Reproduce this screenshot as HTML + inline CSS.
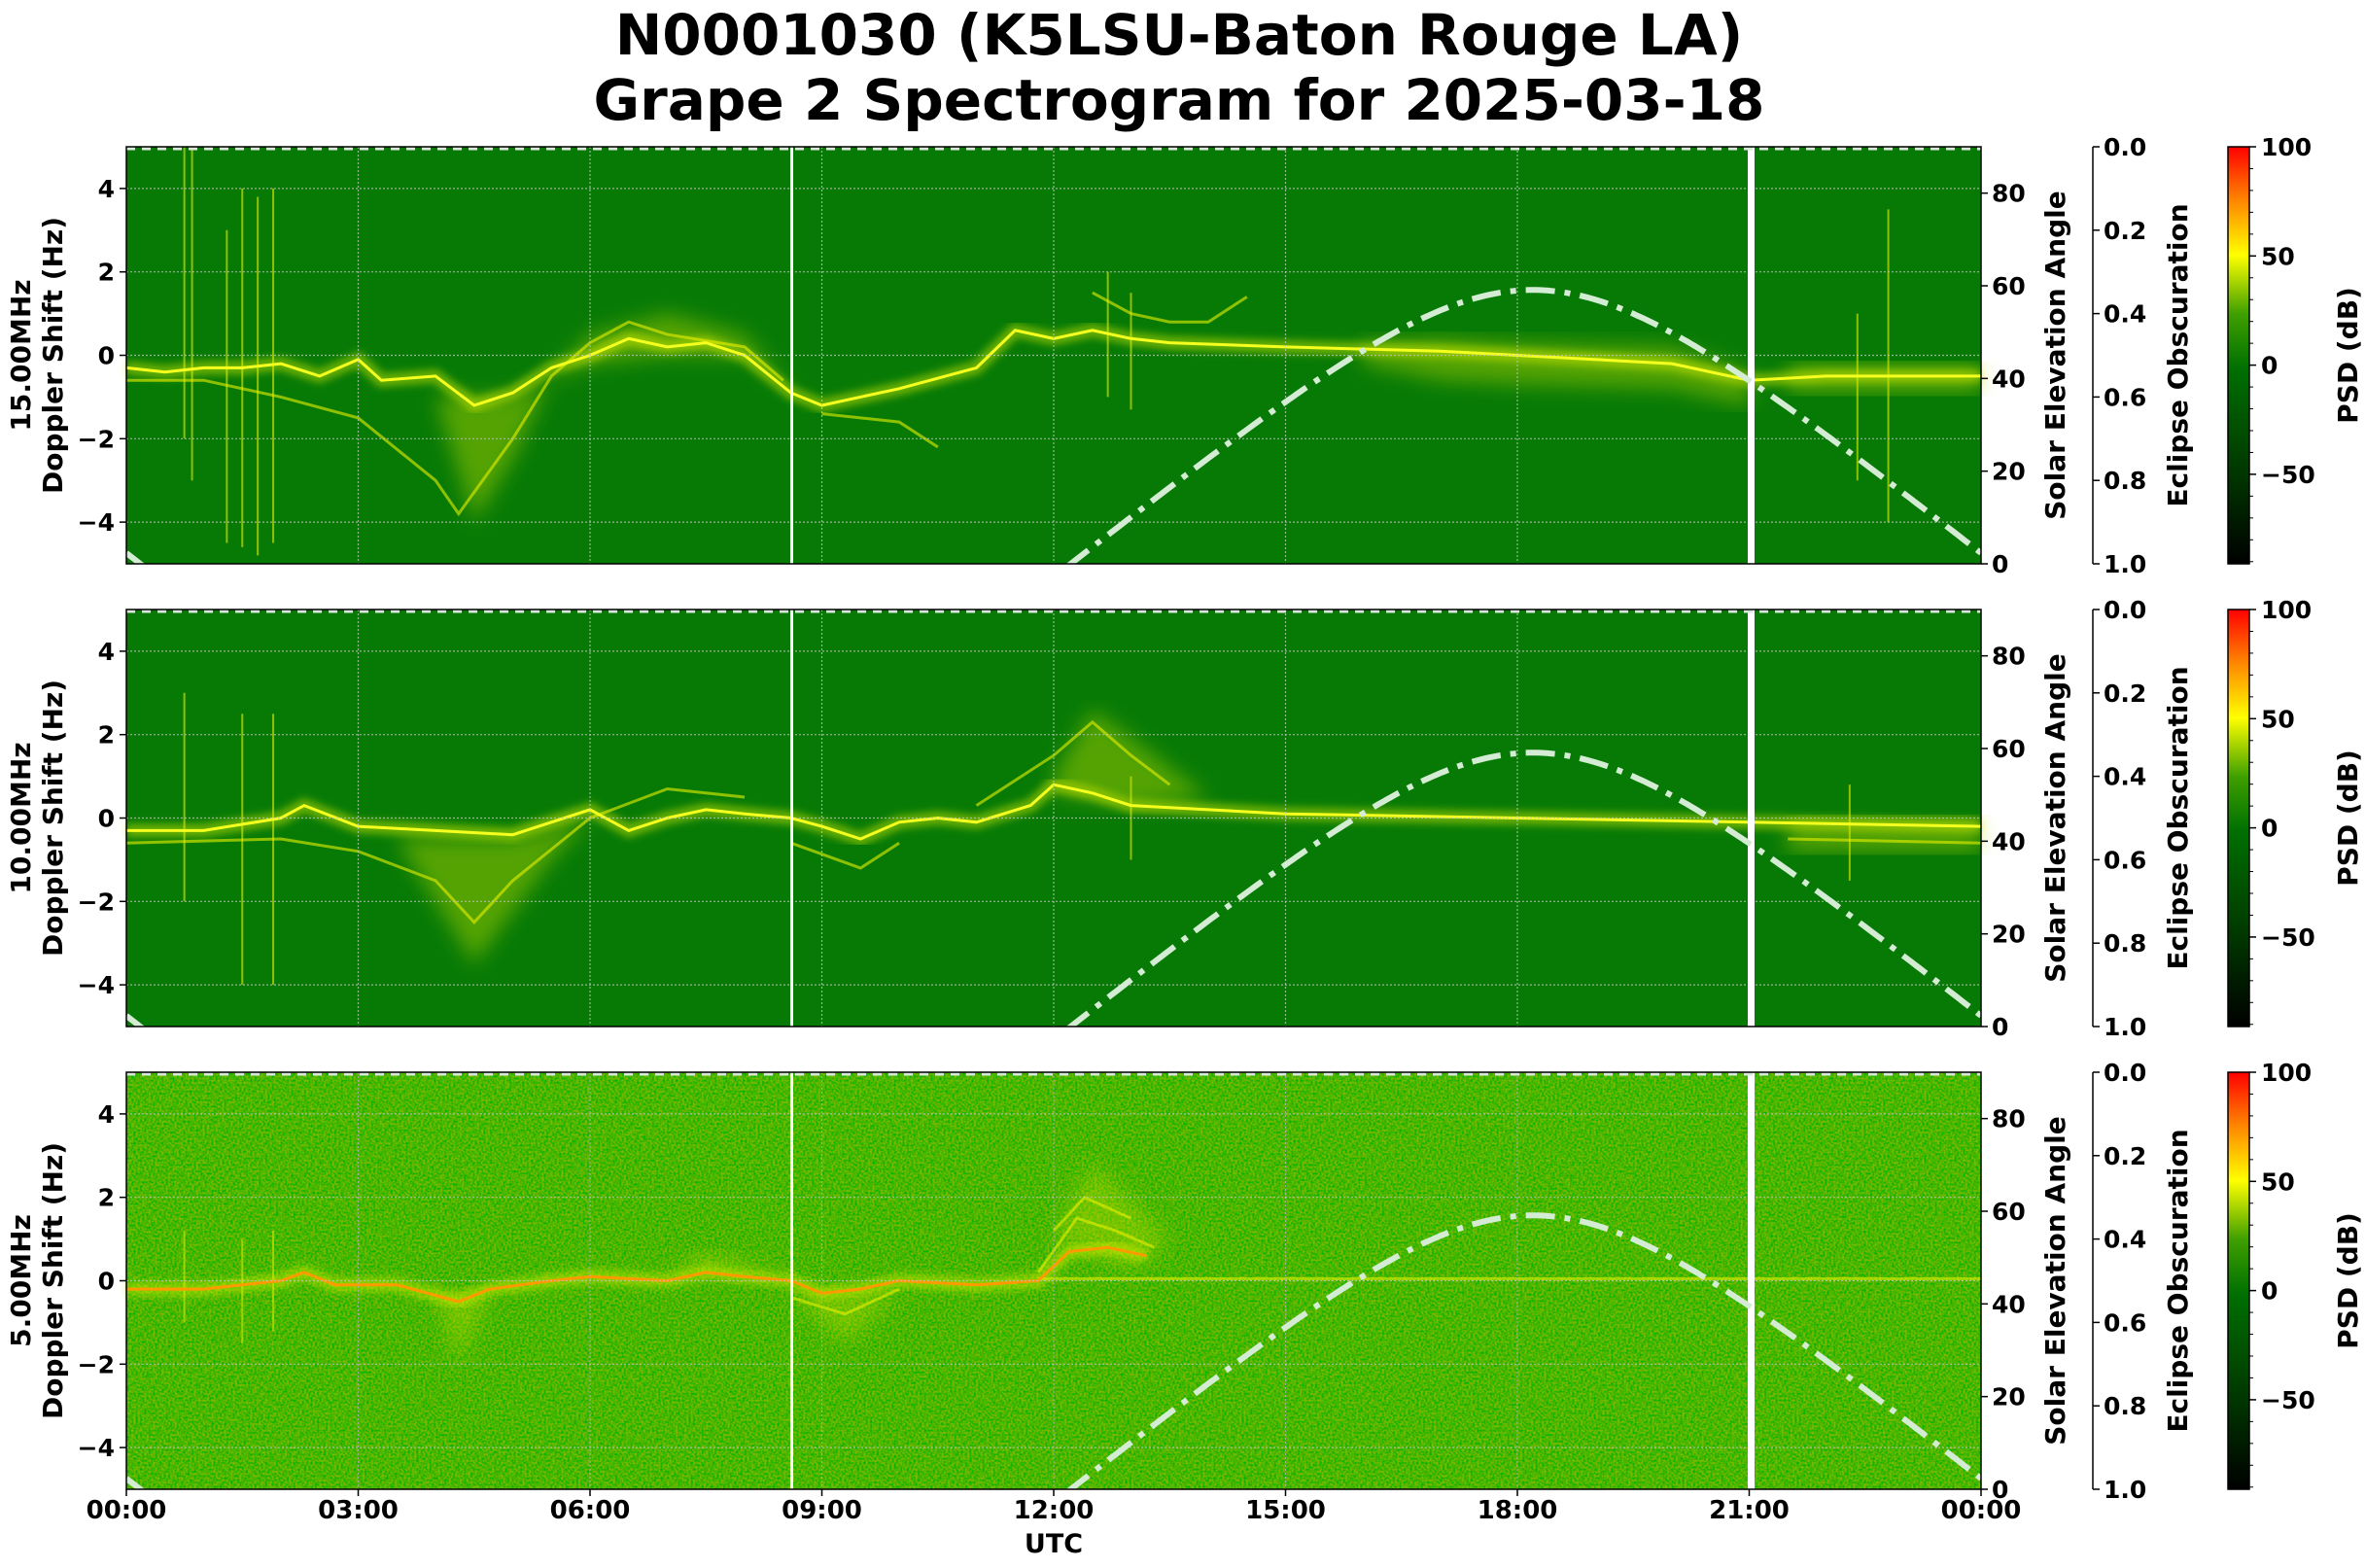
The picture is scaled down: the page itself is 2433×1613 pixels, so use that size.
<!DOCTYPE html>
<html><head><meta charset="utf-8">
<style>
html,body{margin:0;padding:0;background:#fff;}
svg{display:block;font-family:"DejaVu Sans","Liberation Sans",sans-serif;font-weight:bold;}
</style></head>
<body>
<svg id="s" xmlns="http://www.w3.org/2000/svg" width="2433" height="1613" viewBox="0 0 2433 1613">
<defs>
<linearGradient id="cb" x1="0" y1="1" x2="0" y2="0">
<stop offset="0" stop-color="#000000"/>
<stop offset="0.2" stop-color="#003300"/>
<stop offset="0.47" stop-color="#007000"/>
<stop offset="0.6" stop-color="#40a000"/>
<stop offset="0.74" stop-color="#ffff00"/>
<stop offset="0.87" stop-color="#ff8800"/>
<stop offset="1" stop-color="#ff0000"/>
</linearGradient>
<filter id="noise" x="0" y="0" width="100%" height="100%">
<feTurbulence type="fractalNoise" baseFrequency="0.45" numOctaves="1" seed="3"/>
<feColorMatrix type="matrix" values="0 0 0 0 0  0 0 0 0 0.45  0 0 0 0 0  2.4 0 0 0 -0.8"/>
</filter>
<filter id="blur"><feGaussianBlur stdDeviation="4"/></filter>
<filter id="blur2"><feGaussianBlur stdDeviation="10"/></filter>
</defs>
<text x="1213" y="56" text-anchor="middle" font-size="58">N0001030 (K5LSU-Baton Rouge LA)</text>
<text x="1213" y="123" text-anchor="middle" font-size="58">Grape 2 Spectrogram for 2025-03-18</text>
<g id="g"></g>
</svg>
<script>
const NS="http://www.w3.org/2000/svg";
const g=document.getElementById('g');
function el(t,a,p){const e=document.createElementNS(NS,t);for(const k in a)e.setAttribute(k,a[k]);(p||g).appendChild(e);return e;}
function txt(x,y,s,fs,anchor,rot){const e=el('text',{x:x,y:y,'font-size':fs,'text-anchor':anchor||'start'});if(rot)e.setAttribute('transform','rotate(-90 '+x+' '+y+')');e.textContent=s;return e;}
const L=130,R=2038,W=R-L,H=429;
const X=t=>L+t*W/24;
function pts(y0,arr){return arr.map(p=>X(p[0]).toFixed(1)+','+(y0+(5-p[1])*H/10).toFixed(1)).join(' ');}
function elev(t){const Hd=15*(t-18.2)*Math.PI/180;const s=-0.0044+0.8625*Math.cos(Hd);return Math.asin(s)*180/Math.PI;}
const panels=[
 {y0:151,name:'15.00MHz',bg:'#077a05',noise:false,
  main:[[0,-0.3],[0.5,-0.4],[1,-0.3],[1.5,-0.3],[2,-0.2],[2.5,-0.5],[3,-0.1],[3.3,-0.6],[4,-0.5],[4.5,-1.2],[5,-0.9],[5.5,-0.3],[6,0],[6.5,0.4],[7,0.2],[7.5,0.3],[8,0],[8.6,-0.9],[9,-1.2],[10,-0.8],[11,-0.3],[11.5,0.6],[12,0.4],[12.5,0.6],[13,0.4],[13.5,0.3],[15,0.2],[17,0.1],[18,0],[19,-0.1],[20,-0.2],[21,-0.6],[22,-0.5],[24,-0.5]],
  sec:[[[0,-0.6],[1,-0.6],[2,-1],[3,-1.5],[4,-3],[4.3,-3.8],[5,-2],[5.5,-0.5],[6,0.3],[6.5,0.8],[7,0.5],[8,0.2],[8.5,-0.6]],[[12.5,1.5],[13,1],[13.5,0.8],[14,0.8],[14.5,1.4]],[[9,-1.4],[10,-1.6],[10.5,-2.2]]],
  clouds:[[[3,-0.5],[4,-1],[4.5,-4],[5,-2.5],[5.5,-0.5],[6,0.5],[7,1],[8,0.5],[8.6,-0.8],[8,0],[7,0],[6,-0.2],[5,-1],[4,-1]],[[16,0.3],[17,0.4],[18,0.3],[20,0.2],[21,-0.4],[21,-1.2],[20,-0.8],[18,-0.7],[17,-0.6],[16,-0.2]],[[21.5,-0.2],[24,-0.2],[24,-0.9],[21.5,-0.9]]],
  spikes:[[0.75,5,-2],[0.85,5,-3],[1.3,3,-4.5],[1.5,4,-4.6],[1.7,3.8,-4.8],[1.9,4,-4.5],[12.7,2,-1],[13,1.5,-1.3],[22.4,1,-3],[22.8,3.5,-4]]},
 {y0:627,name:'10.00MHz',bg:'#077a05',noise:false,
  main:[[0,-0.3],[1,-0.3],[2,0],[2.3,0.3],[3,-0.2],[4,-0.3],[5,-0.4],[5.5,-0.1],[6,0.2],[6.5,-0.3],[7,0],[7.5,0.2],[8,0.1],[8.6,0],[9,-0.2],[9.5,-0.5],[10,-0.1],[10.5,0],[11,-0.1],[11.7,0.3],[12,0.8],[12.5,0.6],[13,0.3],[14,0.2],[15,0.1],[18,0],[21,-0.1],[24,-0.2]],
  sec:[[[11,0.3],[12,1.5],[12.5,2.3],[13,1.5],[13.5,0.8]],[[0,-0.6],[2,-0.5],[3,-0.8],[4,-1.5],[4.5,-2.5],[5,-1.5],[6,0],[7,0.7],[8,0.5]],[[21.5,-0.5],[24,-0.6]],[[8.6,-0.6],[9.5,-1.2],[10,-0.6]]],
  clouds:[[[3.5,-0.5],[4.5,-3.5],[5.5,-1],[6,0],[5,-0.5]],[[12,1],[12.5,2.6],[13.3,1.5],[14,0.5],[13,0.3],[12,0.6]],[[21.5,0],[24,0],[24,-0.8],[21.5,-0.8]]],
  spikes:[[0.75,3,-2],[1.5,2.5,-4],[1.9,2.5,-4],[13,1,-1],[22.3,0.8,-1.5]]},
 {y0:1103,name:'5.00MHz',bg:'#7cb800',noise:true,
  main:[[0,-0.2],[1,-0.2],[2,0],[2.3,0.2],[2.7,-0.1],[3.5,-0.1],[4.3,-0.5],[4.7,-0.2],[5.5,0],[6,0.1],[7,0],[7.5,0.2],[8,0.1],[8.6,0],[9,-0.3],[9.5,-0.2],[10,0],[11,-0.1],[11.8,0],[12.2,0.7],[12.7,0.8],[13.2,0.6]],
  sec:[[[11.8,0.2],[12.3,1.5],[12.8,1.2],[13.3,0.8]],[[12,1.2],[12.4,2],[13,1.5]],[[11.8,0.05],[24,0.05]],[[8.6,-0.4],[9.3,-0.8],[10,-0.2]]],
  clouds:[[[4,-0.3],[4.3,-2],[4.7,-0.3]],[[7,0.2],[7.5,0.7],[8.5,0.2]],[[12,1],[12.5,2.8],[13.5,1],[13,0.3]],[[8.6,-0.3],[9.3,-1.5],[10,-0.3]]],
  spikes:[[0.75,1.2,-1],[1.5,1,-1.5],[1.9,1.2,-1.2]]}
];
panels.forEach(p=>{
 const y0=p.y0,yb=y0+H;
 el('rect',{x:L,y:y0,width:W,height:H,fill:p.bg});
 if(p.noise) el('rect',{x:L,y:y0,width:W,height:H,filter:'url(#noise)'});
 p.clouds.forEach(c=>el('polygon',{points:pts(y0,c),fill:'#c8e000','fill-opacity':p.noise?0.35:0.4,filter:'url(#blur2)'}));
 p.spikes.forEach(s=>el('line',{x1:X(s[0]),x2:X(s[0]),y1:y0+(5-s[1])*H/10,y2:y0+(5-s[2])*H/10,stroke:'#c8e000','stroke-width':2,'stroke-opacity':0.7}));
 el('polyline',{points:pts(y0,p.main),fill:'none',stroke:'#e0f000','stroke-width':14,'stroke-opacity':0.45,filter:'url(#blur)'});
 p.sec.forEach(s=>el('polyline',{points:pts(y0,s),fill:'none',stroke:'#e8f000','stroke-width':3,'stroke-opacity':0.6}));
 el('polyline',{points:pts(y0,p.main),fill:'none',stroke:p.noise?'#ff9a00':'#f4ff20','stroke-width':3});
 for(let h=3;h<24;h+=3) el('line',{x1:X(h),x2:X(h),y1:y0,y2:yb,stroke:p.noise?'#b0b0b0':'#b8c8b8','stroke-width':1.2,'stroke-dasharray':'2,2','stroke-opacity':0.8});
 for(let f=-4;f<=4;f+=2){const y=y0+(5-f)*H/10;el('line',{x1:L,x2:R,y1:y,y2:y,stroke:'#c0c0c0','stroke-width':1.2,'stroke-dasharray':'2,2','stroke-opacity':0.8});}
 el('rect',{x:813,y:y0,width:3,height:H,fill:'#fff'});
 el('rect',{x:1798,y:y0,width:7,height:H,fill:'#fff'});
 const pe=[];
 for(let t=0;t<=24.001;t+=0.05){let e=elev(t);if(t<6)e=elev(t+24);if(e<-1)continue;pe.push([t,e]);}
 let segs=[[]];
 pe.forEach((q,i)=>{if(i>0&&q[0]-pe[i-1][0]>0.06)segs.push([]);segs[segs.length-1].push(q);});
 const cp=el('clipPath',{id:'c'+y0});el('rect',{x:L,y:y0,width:W,height:H},cp);
 segs.forEach(sg=>el('polyline',{points:sg.map(q=>X(q[0]).toFixed(1)+','+(yb-q[1]*H/90).toFixed(1)).join(' '),fill:'none',stroke:'#d4ecd4','stroke-width':6,'stroke-dasharray':'30,10,6,10','clip-path':'url(#c'+y0+')'}));
 el('line',{x1:L,x2:R,y1:y0+2,y2:y0+2,stroke:'#d8e8d8','stroke-width':3,'stroke-dasharray':'9,7'});
 el('rect',{x:L,y:y0,width:W,height:H,fill:'none',stroke:'#000','stroke-width':1.5});
 for(let f=-4;f<=4;f+=2){const y=y0+(5-f)*H/10;el('line',{x1:L-7,x2:L,y1:y,y2:y,stroke:'#000','stroke-width':1.5});txt(L-12,y+9,f<0?'\u2212'+(-f):''+f,25,'end');}
 for(let e=0;e<=80;e+=20){const y=yb-e*H/90;el('line',{x1:R,x2:R+7,y1:y,y2:y,stroke:'#000','stroke-width':1.5});txt(R+11,y+9,''+e,25,'start');}
 txt(2124,y0+H/2,'Solar Elevation Angle',28,'middle',true);
 const ex=2153;
 el('line',{x1:ex,x2:ex,y1:y0,y2:yb,stroke:'#000','stroke-width':1.5});
 for(let i=0;i<=5;i++){const y=y0+i*H/5;el('line',{x1:ex,x2:ex+7,y1:y,y2:y,stroke:'#000','stroke-width':1.5});txt(ex+11,y+9,(i*0.2).toFixed(1),25,'start');}
 txt(2250,y0+H/2,'Eclipse Obscuration',28,'middle',true);
 el('rect',{x:2292,y:y0,width:22,height:H,fill:'url(#cb)',stroke:'#000','stroke-width':1.5});
 const cy=v=>y0+(100-v)*H/191;
 for(let v=100;v>=-90;v-=10){el('line',{x1:2314,x2:2318,y1:cy(v),y2:cy(v),stroke:'#000','stroke-width':1});}
 [100,50,0,-50].forEach(v=>{el('line',{x1:2314,x2:2321,y1:cy(v),y2:cy(v),stroke:'#000','stroke-width':1.5});txt(2326,cy(v)+9,v<0?'\u2212'+(-v):''+v,25,'start');});
 txt(2425,y0+H/2,'PSD (dB)',28,'middle',true);
 txt(31,y0+H/2,'15.00MHz'===p.name?p.name:p.name,28,'middle',true);
 txt(64,y0+H/2,'Doppler Shift (Hz)',28,'middle',true);
});
const lab=['00:00','03:00','06:00','09:00','12:00','15:00','18:00','21:00','00:00'];
lab.forEach((s,i)=>{const x=X(i*3);el('line',{x1:x,x2:x,y1:1532,y2:1539,stroke:'#000','stroke-width':1.5});txt(x,1562,s,26,'middle');});
txt(X(12),1597,'UTC',27,'middle');
</script>
</body></html>
